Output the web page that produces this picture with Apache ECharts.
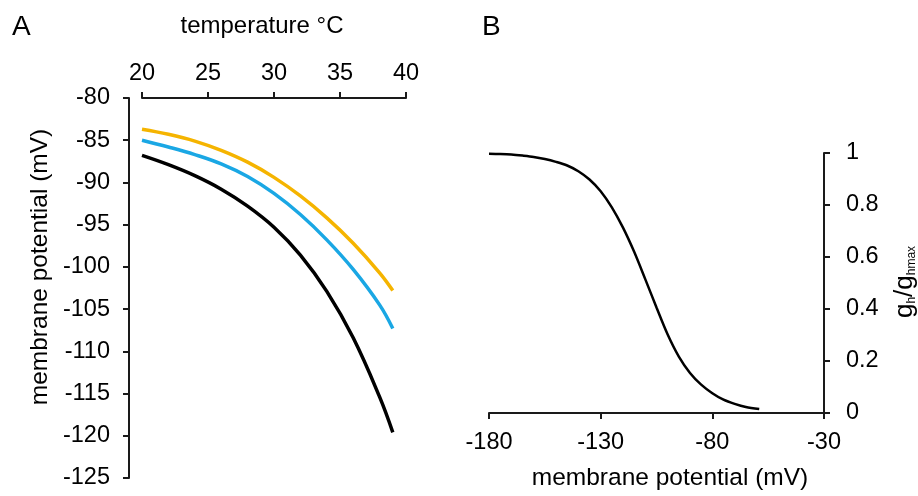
<!DOCTYPE html>
<html>
<head>
<meta charset="utf-8">
<script src="https://cdn.jsdelivr.net/npm/echarts@6/dist/echarts.min.js"></script>
<style>
  html, body { margin: 0; padding: 0; background: #fff; }
  #chart { width: 918px; height: 496px; }
</style>
</head>
<body>
<div id="chart"></div>
<script>
// Panel A: resting potential vs temperature
const temps = [20, 22, 24, 26, 28, 30, 32, 34, 36, 38, 39];
const yellowVals = [-83.7, -84.3, -85.1, -86.2, -87.6, -89.4, -91.6, -94.2, -97.2, -100.7, -102.8];
const blueVals = [-85.0, -85.8, -86.7, -87.8, -89.3, -91.3, -93.8, -96.8, -100.3, -104.5, -107.3];
const blackVals = [-86.8, -87.9, -89.2, -90.8, -92.8, -95.3, -98.6, -102.9, -108.4, -115.4, -119.6];

// Panel B: activation curve g_h / g_hmax
const voltages = [-180, -175, -170, -165, -160, -155, -150, -145, -140, -135, -130, -125, -120,
  -115, -110, -105, -100, -95, -90, -85, -80, -75, -70, -65, -59];
const gRatio = [0.997, 0.996, 0.994, 0.990, 0.985, 0.977, 0.966, 0.952, 0.930, 0.898, 0.853, 0.791, 0.713,
  0.620, 0.514, 0.406, 0.302, 0.217, 0.154, 0.109, 0.076, 0.051, 0.035, 0.023, 0.015];

const bTicks = [-180, -130, -80, -30];

const FONT = 'Liberation Sans, Arial, sans-serif';
const AXIS_COLOR = '#1a1a1a';

const pairs = (xs, ys) => xs.map((x, i) => [x, ys[i]]);

const axisCommon = {
  axisLine: { show: true, lineStyle: { color: AXIS_COLOR, width: 2 } },
  axisTick: { show: true, inside: false, length: 6, lineStyle: { color: AXIS_COLOR, width: 2 } },
  splitLine: { show: false },
  axisLabel: { color: '#000', fontSize: 23.5, fontFamily: FONT }
};

const chart = echarts.init(document.getElementById('chart'), null, { renderer: 'canvas' });

const lineSeries = (xIdx, data, color, width, smooth) => ({
  type: 'line', xAxisIndex: xIdx, yAxisIndex: xIdx, data,
  smooth, showSymbol: false,
  lineStyle: { color, width }
});

const option = {
  backgroundColor: '#fff',
  animation: false,
  textStyle: { fontFamily: FONT },
  grid: [
    { left: 142, right: 512, top: 98, bottom: 18 },
    { left: 489, right: 94, top: 153, bottom: 83 }
  ],
  xAxis: [
    {
      gridIndex: 0, type: 'value', position: 'top',
      min: 20, max: 40, interval: 5,
      ...axisCommon,
      axisLabel: { ...axisCommon.axisLabel, margin: 12 }
    },
    {
      gridIndex: 1, type: 'value', position: 'bottom',
      min: -180, max: -30,
      ...axisCommon,
      axisTick: { ...axisCommon.axisTick, customValues: bTicks },
      axisLabel: { ...axisCommon.axisLabel, margin: 18, customValues: bTicks }
    }
  ],
  yAxis: [
    {
      gridIndex: 0, type: 'value', position: 'left', offset: 13,
      min: -125, max: -80, interval: 5,
      ...axisCommon,
      axisLabel: { ...axisCommon.axisLabel, margin: 19 }
    },
    {
      gridIndex: 1, type: 'value', position: 'right',
      min: 0, max: 1, interval: 0.2,
      ...axisCommon,
      axisLabel: { ...axisCommon.axisLabel, margin: 22 }
    }
  ],
  series: [
    lineSeries(0, pairs(temps, yellowVals), '#F5B400', 3.5, 0.4),
    lineSeries(0, pairs(temps, blueVals), '#1AA7E4', 3.5, 0.4),
    lineSeries(0, pairs(temps, blackVals), '#000', 3.5, 0.4),
    lineSeries(1, pairs(voltages, gRatio), '#000', 2.5, 0.3)
  ],
  graphic: [
    { type: 'text', x: 12, y: 13, style: { text: 'A', fontSize: 28, fontFamily: FONT, fill: '#000' } },
    { type: 'text', x: 482, y: 13, style: { text: 'B', fontSize: 28, fontFamily: FONT, fill: '#000' } },
    {
      type: 'text', x: 262, y: 26,
      style: { text: 'temperature °C', fontSize: 24, fontFamily: FONT, fill: '#000', align: 'center', verticalAlign: 'middle' }
    },
    {
      type: 'text', x: 40, y: 267, rotation: Math.PI / 2,
      style: { text: 'membrane potential (mV)', fontSize: 24.5, fontFamily: FONT, fill: '#000', align: 'center', verticalAlign: 'middle' }
    },
    {
      type: 'text', x: 670, y: 478,
      style: { text: 'membrane potential (mV)', fontSize: 24.5, fontFamily: FONT, fill: '#000', align: 'center', verticalAlign: 'middle' }
    },
    {
      type: 'text', x: 905, y: 282, rotation: Math.PI / 2,
      style: {
        text: '{g|g}{s|h}{g|/g}{s|hmax}',
        align: 'center', verticalAlign: 'middle',
        rich: {
          g: { fontSize: 26, fontFamily: FONT, fill: '#000' },
          s: { fontSize: 12, fontFamily: FONT, fill: '#000', verticalAlign: 'bottom', padding: [9, 0, 0, 0] }
        }
      }
    }
  ]
};

chart.setOption(option);
</script>
</body>
</html>
